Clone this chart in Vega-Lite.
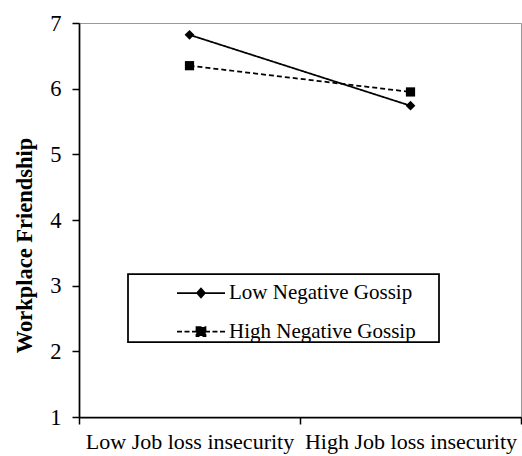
{
  "$schema": "https://vega.github.io/schema/vega-lite/v6.json",
  "width": 442,
  "height": 394,
  "autosize": "none",
  "padding": {"left": 79, "top": 23, "right": 1, "bottom": 39},
  "background": "white",
  "config": {
    "font": "Liberation Serif",
    "view": {"stroke": "#999999", "strokeWidth": 1}
  },
  "data": {
    "values": [
      {"insecurity": "Low Job loss insecurity", "gossip": "Low Negative Gossip", "friendship": 6.82},
      {"insecurity": "High Job loss insecurity", "gossip": "Low Negative Gossip", "friendship": 5.74},
      {"insecurity": "Low Job loss insecurity", "gossip": "High Negative Gossip", "friendship": 6.35},
      {"insecurity": "High Job loss insecurity", "gossip": "High Negative Gossip", "friendship": 5.95}
    ]
  },
  "encoding": {
    "x": {
      "field": "insecurity",
      "type": "nominal",
      "sort": ["Low Job loss insecurity", "High Job loss insecurity"],
      "scale": {"type": "band", "paddingInner": 0, "paddingOuter": 0},
      "axis": {
        "title": null,
        "labelAngle": 0,
        "labelFont": "Liberation Serif",
        "labelFontSize": 22,
        "labelColor": "black",
        "labelLimit": 400,
        "labelOverlap": false,
        "labelPadding": 7,
        "tickBand": "extent",
        "tickSize": 7,
        "tickColor": "black",
        "tickWidth": 1.5,
        "domainColor": "black",
        "domainWidth": 1.75,
        "grid": false
      }
    },
    "y": {
      "field": "friendship",
      "type": "quantitative",
      "scale": {"domain": [1, 7], "nice": false, "zero": false},
      "axis": {
        "title": "Workplace Friendship",
        "titleFont": "Liberation Serif",
        "titleFontSize": 22.5,
        "titleFontWeight": "bold",
        "titleColor": "black",
        "titleAngle": -90,
        "titleAlign": "center",
        "titleBaseline": "middle",
        "titleX": -55,
        "titleY": 222,
        "values": [1, 2, 3, 4, 5, 6, 7],
        "format": "d",
        "labelFont": "Liberation Serif",
        "labelFontSize": 22.5,
        "labelColor": "black",
        "labelPadding": 11,
        "tickSize": 7,
        "tickColor": "black",
        "tickWidth": 1.5,
        "domainColor": "black",
        "domainWidth": 1.75,
        "grid": false
      }
    }
  },
  "layer": [
    {
      "mark": {"type": "line", "color": "black", "strokeWidth": 1.75},
      "encoding": {
        "strokeDash": {
          "field": "gossip",
          "type": "nominal",
          "scale": {"domain": ["Low Negative Gossip", "High Negative Gossip"], "range": [[1, 0], [5, 3]]},
          "legend": {
            "title": "\u00a0",
            "titleOrient": "right",
            "titlePadding": 23,
            "titleFontSize": 4,
            "orient": "none",
            "legendX": 49,
            "legendY": 251,
            "padding": 0,
            "fillColor": "white",
            "strokeColor": "black",
            "symbolSize": 1296,
            "symbolStrokeWidth": 1.75,
            "symbolStrokeColor": "black",
            "symbolFillColor": "black",
            "symbolOffset": 54,
            "labelOffset": 9,
            "labelFont": "Liberation Serif",
            "labelFontSize": 21,
            "labelColor": "black",
            "labelLimit": 400,
            "rowPadding": 9.6,
            "encode": {
              "legend": {"update": {"strokeWidth": {"value": 1.75}}},
              "symbols": {
                "update": {
                  "shape": {"signal": "datum.value === 'Low Negative Gossip' ? 'M-1.333,0H1.333M0,-0.25L0.222,0L0,0.25L-0.222,0ZM-0.12,-0.05H0.12M-0.12,0.05H0.12' : 'M-1.333,0H-1.055M-0.916,0H-0.638M-0.5,0H-0.25M0.25,0H0.5M0.638,0H0.916M1.055,0H1.333M-0.25,-0.25H0.25V0.25H-0.25ZM-0.25,-0.2H0.25M-0.25,-0.12H0.25M-0.25,-0.04H0.25M-0.25,0.04H0.25M-0.25,0.12H0.25M-0.25,0.2H0.25'"},
                  "fill": {"value": "black"},
                  "fillOpacity": {"value": 1},
                  "opacity": {"value": 1},
                  "stroke": {"value": "black"},
                  "strokeDash": {"value": []},
                  "strokeWidth": {"value": 1.75}
                }
              }
            }
          }
        }
      }
    },
    {
      "transform": [{"filter": "datum.gossip === 'Low Negative Gossip'"}],
      "mark": {"type": "point", "shape": "diamond", "filled": true, "color": "black", "opacity": 1, "size": 95}
    },
    {
      "transform": [{"filter": "datum.gossip === 'High Negative Gossip'"}],
      "mark": {"type": "point", "shape": "square", "filled": true, "color": "black", "opacity": 1, "size": 85}
    }
  ]
}
